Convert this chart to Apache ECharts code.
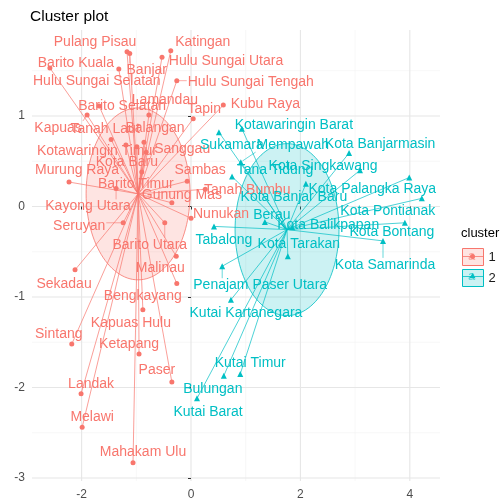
<!DOCTYPE html>
<html><head><meta charset="utf-8">
<script src="https://cdn.jsdelivr.net/npm/echarts@6/dist/echarts.min.js"></script>
<style>html,body{margin:0;padding:0;background:#fff}#c{width:503px;height:504px}</style>
</head><body><div id="c"></div>
<script>
// ---------- data ----------
const names1 = ["Pulang Pisau","Banjar","Katingan","Hulu Sungai Utara","Barito Kuala","Hulu Sungai Selatan","Hulu Sungai Tengah","Barito Selatan","Kapuas","Lamandau","Kubu Raya","Tapin","Tanah Laut","Balangan","Kotawaringin Timur","Sanggau","Kota Baru","Murung Raya","Barito Timur","Sambas","Tanah Bumbu","Gunung Mas","Kayong Utara","Nunukan","Seruyan","Barito Utara","Malinau","Sekadau","Bengkayang","Kapuas Hulu","Sintang","Ketapang","Paser","Landak","Melawi","Mahakam Ulu"];
const dim1x = [-1.17,-1.12,-0.37,-0.53,-2.58,-1.32,-0.26,-1.68,-1.90,-0.77,0.59,0.04,-1.46,-0.86,-1.19,-0.82,-0.99,-2.23,-0.90,-0.07,0.26,-0.35,-1.37,0.00,-1.24,-0.48,-0.27,-2.12,-0.26,-0.88,-2.18,-0.95,-0.35,-2.01,-1.99,-1.06];
const dim1y = [1.71,1.69,1.72,1.65,1.53,1.52,1.39,1.11,1.01,1.01,1.12,0.97,0.74,0.71,0.68,0.60,0.66,0.27,0.38,0.28,0.19,0.04,0.20,-0.13,-0.18,-0.18,-0.55,-0.70,-0.85,-1.14,-1.52,-1.63,-1.94,-2.07,-2.44,-2.83];

const names2 = ["Kotawaringin Barat","Sukamara","Mempawah","Tana Tidung","Kota Singkawang","Kota Banjarmasin","Kota Banjar Baru","Kota Palangka Raya","Kota Pontianak","Kota Bontang","Kota Samarinda","Berau","Kota Balikpapan","Tabalong","Kota Tarakan","Penajam Paser Utara","Kutai Kartanegara","Kutai Timur","Bulungan","Kutai Barat"];
const dim2x = [0.93,0.51,0.91,0.75,3.09,2.89,2.10,3.99,4.22,3.91,3.51,1.35,1.85,0.42,1.77,0.57,0.73,0.90,0.60,0.11];
const dim2y = [0.86,0.82,0.49,0.33,0.40,0.59,0.25,0.32,0.09,-0.18,-0.38,-0.17,-0.23,-0.22,-0.55,-0.66,-1.03,-1.85,-1.87,-2.12];

const clusterNames = ["1","2"];
const xTicks = [-2,0,2,4];
const yTicks = [-3,-2,-1,0,1];
const xMinor = [-3,-1,1,3];
const yMinor = [-2.5,-1.5,-0.5,0.5,1.5];
const ellipseLevel = 0.95;

// ---------- label layout (pixel nudges, repel-like) ----------
const nudge1 = [[-32,-10],[17,17],[32,-9],[64,4],[26,-5],[-22,12],[74,1],[23,0],[-29,13],[16,-15],[42,-1],[11,-10],[-6,-10],[11,-14],[-29,6],[36,-3],[-10,15],[8,-12],[-6,12],[13,-11],[42,1],[10,-8],[-28,18],[30,-4],[-44,3],[-15,22],[-16,12],[-11,14],[-34,13],[-12,13],[-13,-10],[-10,-10],[-15,-12],[10,-10],[10,-10],[10,-10]];
const nudge2 = [[52,-4],[13,13],[52,-17],[43,-6],[-37,-4],[31,-9],[-12,13],[-37,12],[-34,13],[-13,9],[2,24],[7,-7],[36,-2],[10,14],[11,-12],[38,19],[15,13],[10,-11],[-11,13],[11,14]];

// ---------- style ----------
const C1 = '#F8766D', C2 = '#00BFC4';
const FF = '"Liberation Sans", Arial, Helvetica, sans-serif';
const LABEL_FONT = '14px ' + FF;
const mctx = document.createElement('canvas').getContext('2d');
mctx.font = LABEL_FONT;

function mean(a){ return a.reduce((s,v)=>s+v,0)/a.length; }
const centers = [[mean(dim1x), mean(dim1y)], [mean(dim2x), mean(dim2y)]];
const clusters = [
  {name: clusterNames[0], xs: dim1x, ys: dim1y, labels: names1, nudge: nudge1, color: C1, fill: 'rgba(248,118,109,0.2)', symbol: 'circle', size: 5},
  {name: clusterNames[1], xs: dim2x, ys: dim2y, labels: names2, nudge: nudge2, color: C2, fill: 'rgba(0,191,196,0.2)', symbol: 'triangle', size: 6}
];

const series = [];
// grid lines
series.push({
  type: 'custom', silent: true, animation: false, z: 0, clip: true,
  data: [[0,0]],
  renderItem: function(params, api){
    const cs = params.coordSys;
    const ch = [];
    xMinor.forEach(v=>{ const p = api.coord([v,0])[0]; ch.push({type:'line', shape:{x1:p,y1:cs.y,x2:p,y2:cs.y+cs.height}, style:{stroke:'#F2F2F2', lineWidth:0.6}}); });
    yMinor.forEach(v=>{ const p = api.coord([0,v])[1]; ch.push({type:'line', shape:{x1:cs.x,y1:p,x2:cs.x+cs.width,y2:p}, style:{stroke:'#F2F2F2', lineWidth:0.6}}); });
    xTicks.forEach(v=>{ const p = api.coord([v,0])[0]; ch.push({type:'line', shape:{x1:p,y1:cs.y,x2:p,y2:cs.y+cs.height}, style:{stroke:'#E6E6E6', lineWidth:1.1}}); });
    yTicks.forEach(v=>{ const p = api.coord([0,v])[1]; ch.push({type:'line', shape:{x1:cs.x,y1:p,x2:cs.x+cs.width,y2:p}, style:{stroke:'#E6E6E6', lineWidth:1.1}}); });
    return {type:'group', children: ch};
  }
});

clusters.forEach((cl, k)=>{
  const cen = centers[k];
  // ellipse (euclid circle of radius = level)
  series.push({
    type: 'custom', silent: true, animation: false, z: 1,
    data: [[cen[0], cen[1]]],
    renderItem: function(params, api){
      const pts = [];
      for (let i=0;i<=120;i++){
        const t = i/120*2*Math.PI;
        pts.push(api.coord([api.value(0)+ellipseLevel*Math.cos(t), api.value(1)+ellipseLevel*Math.sin(t)]));
      }
      return {type:'polygon', shape:{points: pts}, style:{fill: cl.fill, stroke: cl.color, lineWidth: 0.8}};
    }
  });
  // star lines
  series.push({
    type: 'lines', coordinateSystem: 'cartesian2d', silent: true, animation: false, z: 2,
    polyline: false,
    lineStyle: {color: cl.color, width: 0.7, opacity: 1},
    data: cl.xs.map((x,i)=>({coords: [[x, cl.ys[i]], cen]}))
  });
  // points
  series.push({
    name: cl.name, type: 'scatter', animation: false, z: 3,
    symbol: cl.symbol, symbolSize: cl.size,
    itemStyle: {color: cl.color, opacity: 1},
    data: cl.xs.map((x,i)=>[x, cl.ys[i]])
  });
  // labels + repel segments
  series.push({
    type: 'custom', silent: true, animation: false, z: 4,
    data: cl.xs.map((x,i)=>[x, cl.ys[i], i]),
    renderItem: function(params, api){
      const p = api.coord([api.value(0), api.value(1)]);
      const i = api.value(2);
      const txt = cl.labels[i];
      const nd = cl.nudge[i];
      const cx = p[0]+nd[0], cy = p[1]+nd[1];
      const hw = mctx.measureText(txt).width/2 + 1, hh = 7;
      const ch = [];
      const nx = Math.max(cx-hw, Math.min(p[0], cx+hw));
      const ny = Math.max(cy-hh, Math.min(p[1], cy+hh));
      const d = Math.hypot(nx-p[0], ny-p[1]);
      if (d > 7) {
        const ux = (nx-p[0])/d, uy = (ny-p[1])/d;
        ch.push({type:'line', shape:{x1:p[0]+ux*2, y1:p[1]+uy*2, x2:nx, y2:ny}, style:{stroke: cl.color, lineWidth: 0.6}});
      }
      ch.push({type:'text', x: cx, y: cy, style:{text: txt, fill: cl.color, font: LABEL_FONT, align:'center', verticalAlign:'middle'}});
      return {type:'group', children: ch};
    }
  });
});

// legend key decorations
const keyX = 462, keyW = 21, keyH = 17, keyTop = [248, 268];
const graphics = [];
clusters.forEach((cl,k)=>{
  const cy = keyTop[k] + keyH/2;
  graphics.push({type:'text', left: keyX+6, top: keyTop[k]+2, silent:true, z: 10,
    style:{text:'a', fill: cl.color, opacity: 0.6, font: '13px ' + FF}});
  graphics.push({type:'line', shape:{x1:keyX, y1:cy, x2:keyX+keyW, y2:cy}, style:{stroke: cl.color, lineWidth: 0.8}, silent:true, z: 10});
  if (k===0) graphics.push({type:'circle', shape:{cx:keyX+keyW/2, cy:cy, r:2.5}, style:{fill: cl.color}, silent:true, z: 10});
  else graphics.push({type:'polygon', shape:{points:[[keyX+keyW/2, cy-3.5],[keyX+keyW/2-3, cy+1.8],[keyX+keyW/2+3, cy+1.8]]}, style:{fill: cl.color}, silent:true, z: 10});
});

const option = {
  backgroundColor: '#fff',
  animation: false,
  title: [
    {text: 'Cluster plot', left: 25, top: 4, textStyle: {fontSize: 15.5, fontWeight: 'normal', color: '#000', fontFamily: FF}},
    {text: 'cluster', left: 456, top: 222, textStyle: {fontSize: 13, fontWeight: 'normal', color: '#000', fontFamily: FF}}
  ],
  legend: {
    orient: 'vertical', left: keyX - 5, top: keyTop[0] - 5, itemWidth: keyW, itemHeight: keyH, itemGap: 3,
    selectedMode: false,
    textStyle: {fontSize: 13, color: '#1A1A1A', fontFamily: FF},
    data: [
      {name: clusterNames[0], icon: 'rect', itemStyle: {color: 'rgba(248,118,109,0.2)', borderColor: C1, borderWidth: 1}},
      {name: clusterNames[1], icon: 'rect', itemStyle: {color: 'rgba(0,191,196,0.2)', borderColor: C2, borderWidth: 1}}
    ]
  },
  grid: {left: 32, right: 63, top: 30, bottom: 23, containLabel: false},
  xAxis: {
    type: 'value', min: -2.907, max: 4.552,
    splitLine: {show: false}, axisLine: {show: false},
    axisTick: {show: true, length: 3, lineStyle: {color: '#333'}, customValues: xTicks},
    axisLabel: {customValues: xTicks, color: '#4D4D4D', fontSize: 12, fontFamily: FF, margin: 8}
  },
  yAxis: {
    type: 'value', min: -3.033, max: 1.95,
    splitLine: {show: false}, axisLine: {show: false},
    axisTick: {show: true, length: 3, lineStyle: {color: '#333'}, customValues: yTicks},
    axisLabel: {customValues: yTicks, color: '#4D4D4D', fontSize: 12, fontFamily: FF, margin: 7}
  },
  graphic: graphics,
  series: series
};

const chart = echarts.init(document.getElementById('c'), null, {renderer: 'canvas'});
chart.setOption(option);
</script>
</body></html>
